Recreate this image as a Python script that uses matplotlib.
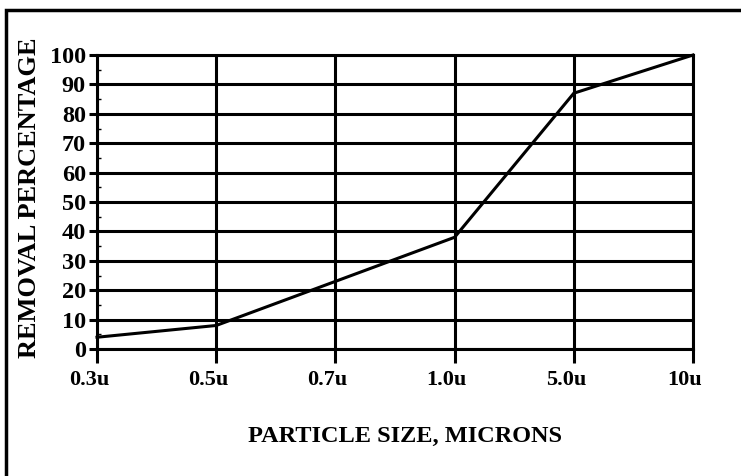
import numpy as np
import matplotlib
matplotlib.use("Agg")
import matplotlib.pyplot as plt
from matplotlib.patches import Rectangle
from matplotlib.transforms import ScaledTranslation

# particle size categories and removal percentage
sizes = ["0.3u", "0.5u", "0.7u", "1.0u", "5.0u", "10u"]
removal = [4, 8, 23, 38, 87, 100]
yticks = list(range(0, 101, 10))

plt.rcParams['font.family'] = ['Liberation Serif', 'DejaVu Serif']
plt.rcParams['font.weight'] = 'bold'

W, H = 741, 476
fig = plt.figure(figsize=(W/100, H/100), dpi=100)
ax = fig.add_axes([97/W, (H-349)/H, (693-97)/W, (349-55)/H])

x = np.arange(len(sizes))
ax.plot(x, removal, color='black', lw=2.2, solid_joinstyle='miter', zorder=3, clip_on=False)

ax.set_xlim(0, len(sizes)-1)
ax.set_ylim(0, 100)
ax.set_xticks(x)
ax.set_xticklabels(sizes, fontsize=16, fontweight='bold')
ax.set_yticks(yticks)
ax.set_yticklabels([str(v) for v in yticks], fontsize=17.5, fontweight='bold')
ax.set_yticks(np.arange(5, 100, 10), minor=True)

ax.grid(True, which='major', color='black', lw=2.2)
ax.set_axisbelow(True)
for s in ax.spines.values():
    s.set_linewidth(2.2)

ax.tick_params(axis='x', which='major', direction='out', length=10, width=2.2, pad=5)
ax.tick_params(axis='y', which='major', direction='out', length=6, width=2.2, pad=2)
ax.tick_params(axis='y', which='minor', direction='in', length=3, width=1)

# excel puts the category labels a touch left of the tick
off = ScaledTranslation(-8/100, 0, fig.dpi_scale_trans)
for lab in ax.get_xticklabels():
    lab.set_transform(lab.get_transform() + off)

fig.text(405/W, (H-436)/H, "PARTICLE SIZE, MICRONS", ha='center', va='center',
         fontsize=17.5, fontweight='bold')
fig.text(30/W, (H-198)/H, "REMOVAL PERCENTAGE", ha='center', va='center',
         rotation=90, fontsize=19, fontweight='bold')

# chart frame, cut off on the right and bottom like the source
fig.patches.append(Rectangle((5.5/W, -0.1), 1.2, (H-10)/H + 0.1, transform=fig.transFigure,
                             fill=False, edgecolor='black', lw=2.5))

fig.savefig("out.png", dpi=100)
